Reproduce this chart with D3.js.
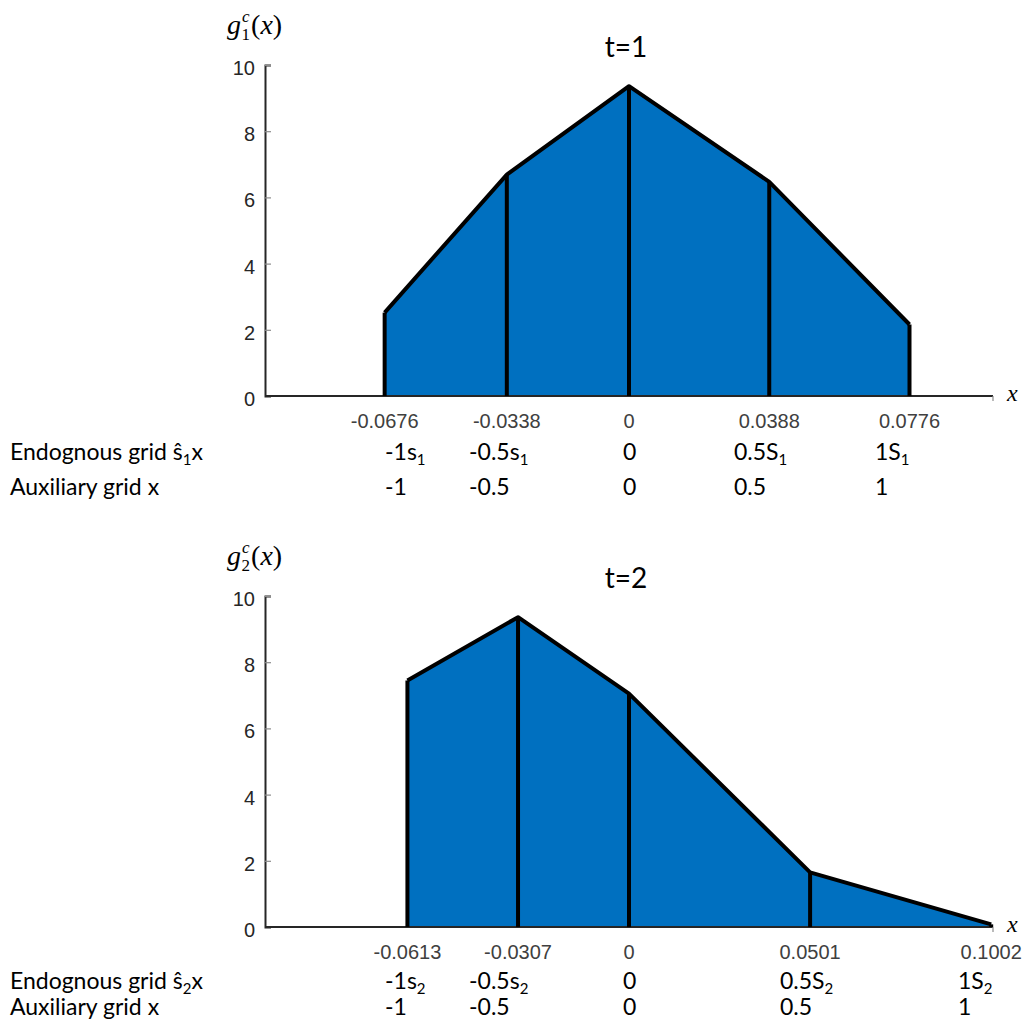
<!DOCTYPE html>
<html><head><meta charset="utf-8">
<script src="https://cdn.jsdelivr.net/npm/d3@7"></script>
<style>body{margin:0;background:#fff}svg{display:block}</style>
</head><body>
<svg id="c" width="1026" height="1021"></svg>
<script>
// ---- data ----
const knots1 = [-0.0676, -0.0338, 0, 0.0388, 0.0776];
const values1 = [2.52, 6.69, 9.36, 6.47, 2.16];
const knots2 = [-0.0613, -0.0307, 0, 0.0501, 0.1002];
const values2 = [7.45, 9.36, 7.05, 1.65, 0.08];
const tickLabels1 = ["-0.0676", "-0.0338", "0", "0.0388", "0.0776"];
const tickLabels2 = ["-0.0613", "-0.0307", "0", "0.0501", "0.1002"];
const endoLabels1 = [["-1s","1"], ["-0.5s","1"], ["0",""], ["0.5S","1"], ["1S","1"]];
const endoLabels2 = [["-1s","2"], ["-0.5s","2"], ["0",""], ["0.5S","2"], ["1S","2"]];
const auxLabels = ["-1", "-0.5", "0", "0.5", "1"];
const yTicks = [0, 2, 4, 6, 8, 10];
const titles = ["t=1", "t=2"];

const svg = d3.select("#c");
const sans = "'Liberation Sans', Arial, sans-serif";
const cal = "Lato, 'Open Sans', sans-serif";
const serif = "'Liberation Serif', 'Times New Roman', serif";

function panel(opt) {
  const x = d3.scaleLinear().domain([-0.1007, 0.1007]).range([265, 993]);
  const y = d3.scaleLinear().domain([0, 10]).range([opt.y0, opt.y0 - 331]);
  const g = svg.append("g");
  const pts = opt.knots.map((k, i) => [k, opt.values[i]]);

  // filled area
  const area = d3.area().x(d => x(d[0])).y0(y(0)).y1(d => y(d[1]));
  g.append("path").datum(pts).attr("d", area).attr("fill", "#0070C0");

  // y axis
  const ya = d3.axisRight(y).tickValues(yTicks).tickSize(6).tickFormat("");
  const yg = g.append("g").attr("transform", `translate(${x.range()[0]},0)`).call(ya);
  yg.select(".domain").attr("stroke", "#262626").attr("stroke-width", 2);
  yg.selectAll(".tick line").attr("stroke", "#8c8c8c").attr("stroke-width", 1.2);
  g.selectAll(".ylab").data(yTicks).join("text")
    .attr("x", 255).attr("y", d => y(d) + 10)
    .attr("text-anchor", "end").attr("font-family", sans).attr("font-size", 20)
    .attr("fill", "#262626").text(d => d);

  // x axis line
  g.append("line").attr("x1", x.range()[0]).attr("x2", x.range()[1])
    .attr("y1", y(0)).attr("y2", y(0)).attr("stroke", "#262626").attr("stroke-width", 2);
  g.append("line").attr("x1", x.range()[1]).attr("x2", x.range()[1])
    .attr("y1", y(0)).attr("y2", y(0) + 5).attr("stroke", "#8c8c8c").attr("stroke-width", 1.2);

  // outline + verticals
  g.append("path").datum(pts).attr("d", d3.line().x(d => x(d[0])).y(d => y(d[1])))
    .attr("fill", "none").attr("stroke", "#000").attr("stroke-width", 4).attr("stroke-linejoin", "round");
  g.selectAll(".vl").data(pts).join("line")
    .attr("x1", d => x(d[0])).attr("x2", d => x(d[0]))
    .attr("y1", d => y(d[1])).attr("y2", y(0))
    .attr("stroke", "#000").attr("stroke-width", 4);

  // x label
  g.append("text").attr("x", 1007).attr("y", y(0) + 5).attr("font-family", serif)
    .attr("font-style", "italic").attr("font-size", 24).attr("fill", "#000").text("x");

  // title
  g.append("text").attr("x", 626).attr("y", opt.y0 - 339).attr("text-anchor", "middle")
    .attr("font-family", cal).attr("font-size", 28).attr("fill", "#000").text(opt.title);

  // y axis label g_k^c(x)
  const gl = g.append("text").attr("x", 227).attr("y", opt.y0 - 362)
    .attr("font-family", serif).attr("font-size", 28).attr("fill", "#000");
  gl.append("tspan").attr("font-style", "italic").text("g");
  gl.append("tspan").attr("font-style", "italic").attr("font-size", 17).attr("dx", 1).attr("dy", -12).text("c");
  gl.append("tspan").attr("font-size", 17).attr("dx", -8).attr("dy", 18).text(opt.sub);
  gl.append("tspan").attr("dx", 1).attr("dy", -6).text("(");
  gl.append("tspan").attr("font-style", "italic").text("x");
  gl.append("tspan").text(")");

  // tick labels
  g.selectAll(".xl").data(opt.tickLabels).join("text")
    .attr("x", (d, i) => x(opt.knots[i])).attr("y", y(0) + 32)
    .attr("text-anchor", "middle").attr("font-family", sans).attr("font-size", 20)
    .attr("fill", "#404040").text(d => d);

  // grid rows
  const rowY1 = y(0) + opt.r1, rowY2 = y(0) + opt.r2;
  const r1 = g.append("text").attr("x", 10).attr("y", rowY1).attr("font-family", cal)
    .attr("font-size", 23).attr("fill", "#000");
  r1.append("tspan").text("Endognous grid ŝ");
  r1.append("tspan").attr("font-size", 15).attr("dy", 5).text(opt.sub);
  r1.append("tspan").attr("dy", -5).text("x");
  g.append("text").attr("x", 10).attr("y", rowY2).attr("font-family", cal)
    .attr("font-size", 23).attr("fill", "#000").text("Auxiliary grid x");

  opt.endo.forEach((lab, i) => {
    const t = g.append("text").attr("x", opt.cols[i]).attr("y", rowY1)
      .attr("font-family", cal).attr("font-size", 23).attr("fill", "#000");
    t.append("tspan").text(lab[0]);
    if (lab[1]) t.append("tspan").attr("font-size", 15).attr("dy", 5).text(lab[1]);
  });
  auxLabels.forEach((lab, i) => {
    g.append("text").attr("x", opt.cols[i]).attr("y", rowY2)
      .attr("font-family", cal).attr("font-size", 23).attr("fill", "#000").text(lab);
  });
}

panel({y0: 396, knots: knots1, values: values1, tickLabels: tickLabels1, endo: endoLabels1,
       title: titles[0], sub: "1", cols: [385, 469, 623, 734, 875], r1: 64, r2: 99});
panel({y0: 927, knots: knots2, values: values2, tickLabels: tickLabels2, endo: endoLabels2,
       title: titles[1], sub: "2", cols: [385, 469, 623, 780, 958], r1: 62, r2: 88});
</script>
</body></html>
